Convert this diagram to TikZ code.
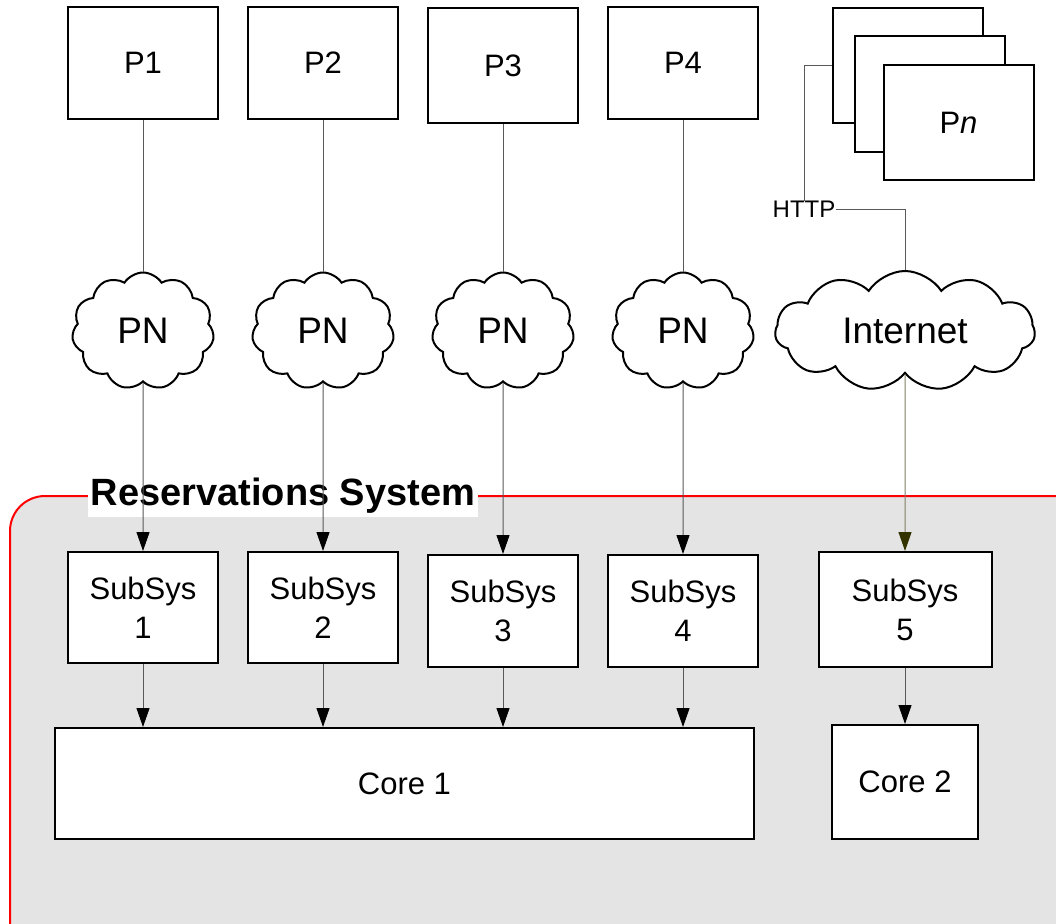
\documentclass[tikz,border=0pt]{standalone}
\usepackage{fontspec}
\setmainfont{Liberation Sans}
\usetikzlibrary{shapes,arrows.meta}
\definecolor{webline}{HTML}{808066}
\definecolor{webtip}{HTML}{333300}
\definecolor{sysfill}{HTML}{E4E4E4}

\begin{document}
\begin{tikzpicture}[x=1pt,y=-1pt]
\tikzstyle{box}=[rectangle,draw=black,line width=2pt,fill=white,inner sep=0pt,align=center,font=\fontsize{31}{39}\selectfont,minimum width=150pt,minimum height=111pt]
\tikzstyle{net}=[cloud,cloud puffs=11,cloud puff arc=115,cloud ignores aspect,draw=black,line width=2pt,fill=white,inner sep=0pt,minimum width=142pt,minimum height=117pt,font=\fontsize{37}{42}\selectfont]
\tikzstyle{wire}=[draw=black!65,line width=1pt]
\tikzstyle{feed}=[wire,-{Triangle[length=19pt,width=13pt,color=black]}]
\useasboundingbox (0,0) rectangle (1056,923);

% the system frame runs off the page
\begin{scope}
\clip (0,0) rectangle (1056,923);
\draw[red,line width=2pt,fill=sysfill,rounded corners=35pt] (10,496) rectangle (1110,980);
\end{scope}
\node[fill=white,inner sep=3pt,font=\bfseries\fontsize{38}{44}\selectfont] (rs) at (283,496) {Reservations System};

% partners
\node[box] (p1) at (143,63) {P1};
\node[box] (p2) at (323,63) {P2};
\node[box,minimum height=115pt] (p3) at (503,65.5) {P3};
\node[box] (p4) at (683,63) {P4};
\node[box,minimum height=115pt] (pnc) at (908,65.5) {};
\node[box,minimum height=116pt] (pnb) at (930,94) {};
\node[box,minimum height=115pt] (pn) at (958.5,122.5) {P\textit{n}};

% networks
\node[net] (pn1) at (143,331) {PN};
\node[net] (pn2) at (323,331) {PN};
\node[net] (pn3) at (503,331) {PN};
\node[net] (pn4) at (683,331) {PN};
\node[net,minimum width=260pt,minimum height=120pt] (inet) at (905,331) {Internet};

% subsystems and cores
\node[box] (sub1) at (143,607.5) {SubSys\\1};
\node[box] (sub2) at (323,607.5) {SubSys\\2};
\node[box,minimum height=112pt] (sub3) at (503,611) {SubSys\\3};
\node[box,minimum height=112pt] (sub4) at (683,611) {SubSys\\4};
\node[box,minimum width=173pt,minimum height=115pt] (sub5) at (905,609.5) {SubSys\\5};
\node[box,minimum width=699pt] (core1) at (404.5,783.5) {Core 1};
\node[box,minimum width=146pt,minimum height=114pt] (core2) at (905,782) {Core 2};

\node[inner sep=0pt,font=\fontsize{24}{28}\selectfont] (http) at (804,209) {HTTP};

\draw[wire] (p1) -- (pn1);
\draw[wire] (p2) -- (pn2);
\draw[wire] (p3) -- (pn3);
\draw[wire] (p4) -- (pn4);
\draw[wire] (pnc.west) -| (http.north);
\draw[wire] (http.east) -| (inet.north);

\draw[feed] (pn1) -- (sub1);
\draw[feed] (pn2) -- (sub2);
\draw[feed] (pn3) -- (sub3);
\draw[feed] (pn4) -- (sub4);
\draw[draw=webline,line width=1pt,-{Triangle[length=19pt,width=13pt,color=webtip]}] (inet) -- (sub5);

\draw[feed] (sub1) -- (sub1 |- core1.north);
\draw[feed] (sub2) -- (sub2 |- core1.north);
\draw[feed] (sub3) -- (sub3 |- core1.north);
\draw[feed] (sub4) -- (sub4 |- core1.north);
\draw[feed] (sub5) -- (core2);
\end{tikzpicture}
\end{document}
